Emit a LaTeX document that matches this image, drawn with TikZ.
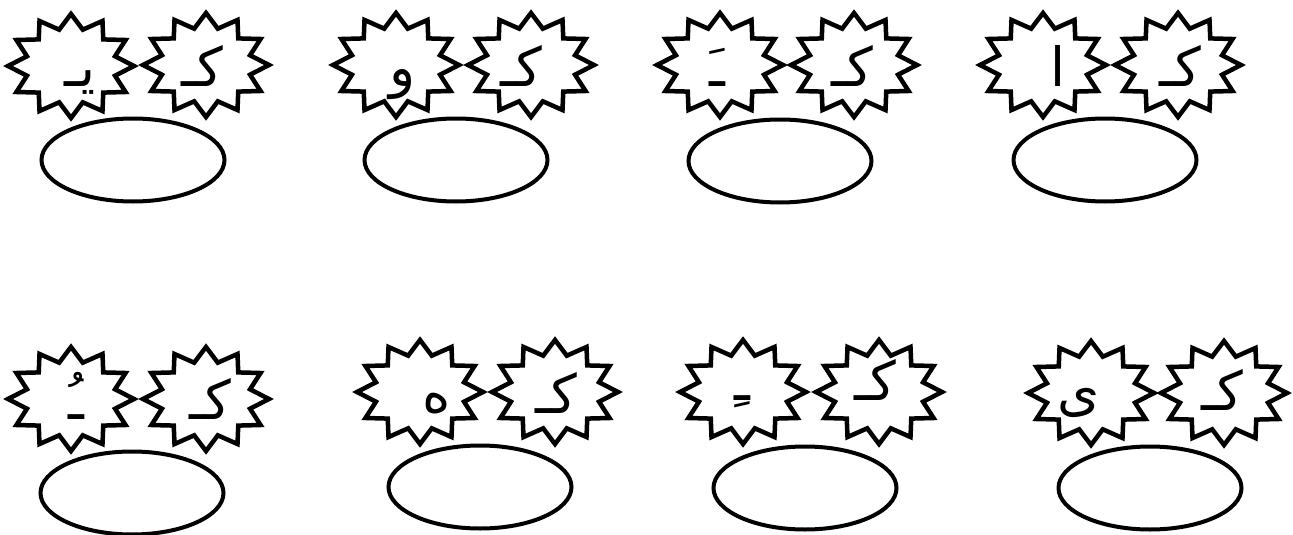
\documentclass[tikz,border=0pt]{standalone}
\usepackage{fontspec}
\usetikzlibrary{shapes.geometric}
\TeXXeTstate=1
\newfontfamily\arabicfont[Script=Arabic]{DejaVu Sans}
\tikzset{
  starline/.style={draw=black, line width=4.5pt, fill=white, line join=miter, miter limit=10},
  oval/.style={ellipse, draw=black, line width=4pt, minimum width=183pt, minimum height=83pt, inner sep=0pt},
  ar/.style={anchor=base, inner sep=0pt, font=\arabicfont\fontsize{54}{60}\selectfont},
  pics/burst/.style={code={
    \draw[starline] plot[samples=25, domain=0:24, variable=\t]
      ({cos(15*\t)*(54.3+8.7*cos(180*\t))}, {sin(15*\t)*(44.8+7.2*cos(180*\t))}) -- cycle;
  }}
}
\begin{document}
\begin{tikzpicture}[x=1pt, y=-1pt]
\useasboundingbox (0,0) rectangle (1293,535);
% ---- top row ----
% group 1
\pic (s1l) at (71,66) {burst};
\pic (s1r) at (206,65) {burst};
\node[oval] (e1) at (133,160) {};
\node[ar] (t1l) at (80,87) {\beginR یـ\endR};
\node[ar] (t1r) at (202,87) {\beginR کـ\endR};
% group 2
\pic (s2l) at (396,65) {burst};
\pic (s2r) at (531,65) {burst};
\node[oval] (e2) at (456,160) {};
\node[ar] (t2l) at (403,87) {\beginR و\endR};
\node[ar] (t2r) at (521,87) {\beginR کـ\endR};
% group 3
\pic (s3l) at (720,65) {burst};
\pic (s3r) at (854,65) {burst};
\node[oval] (e3) at (780,161) {};
\node[ar] (t3l) at (717,87) {\beginR ـَ\endR};
\node[ar] (t3r) at (852,87) {\beginR کـ\endR};
% group 4
\pic (s4l) at (1043,65) {burst};
\pic (s4r) at (1178,65) {burst};
\node[oval] (e4) at (1105,160) {};
\node[ar] (t4l) at (1058,87) {\beginR ا\endR};
\node[ar] (t4r) at (1180,87) {\beginR کـ\endR};
% ---- bottom row ----
% group 5
\pic (s5l) at (71,399) {burst};
\pic (s5r) at (206,399) {burst};
\node[oval] (e5) at (132,493) {};
\node[ar] (t5l) at (76,419) {\beginR ـُ\endR};
\node[ar] (t5r) at (210,419) {\beginR کـ\endR};
% group 6
\pic (s6l) at (420,392) {burst};
\pic (s6r) at (555,392) {burst};
\node[oval] (e6) at (480,487) {};
\node[ar] (t6l) at (437,412) {\beginR ه\endR};
\node[ar] (t6r) at (556,413) {\beginR کـ\endR};
% group 7
\pic (s7l) at (743,392) {burst};
\pic (s7r) at (879,392) {burst};
\node[oval] (e7) at (805,488) {};
\node[ar] (t7l) at (742,400) {\beginR ـِ\endR};
\node[ar] (t7r) at (875,400) {\beginR کـ\endR};
% group 8
\pic (s8l) at (1091,393) {burst};
\pic (s8r) at (1224,393) {burst};
\node[oval] (e8) at (1150,488) {};
\node[ar] (t8l) at (1079,410) {\beginR ی\endR};
\node[ar] (t8r) at (1222,410) {\beginR کـ\endR};
\end{tikzpicture}
\end{document}
